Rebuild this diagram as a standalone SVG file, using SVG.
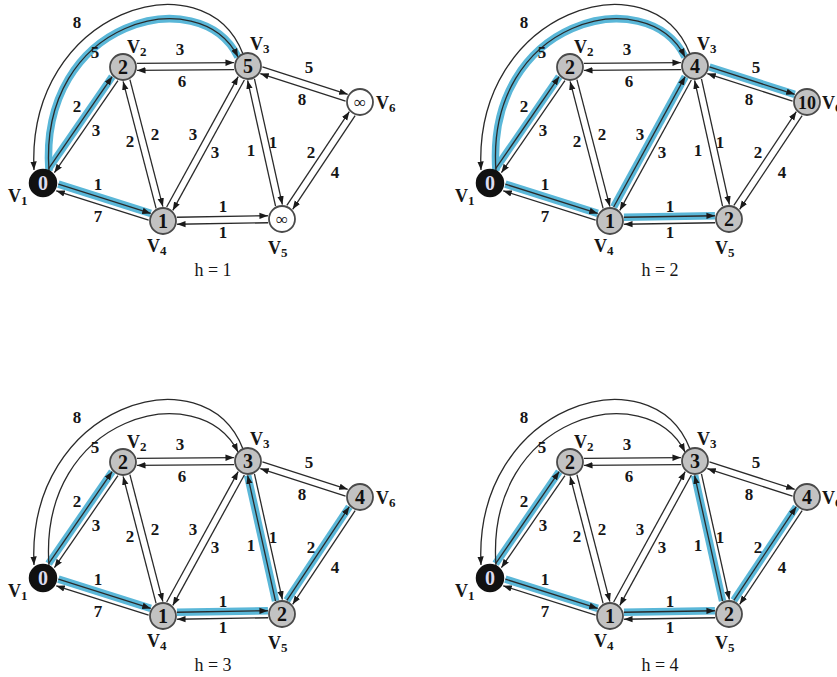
<svg xmlns="http://www.w3.org/2000/svg" width="837" height="677" viewBox="0 0 837 677">
<style>
.e{stroke:#2a2a2a;stroke-width:1.3;fill:none;marker-end:url(#ah)}
.hl{stroke:#5ab7d8;stroke-width:7.5;fill:none}
.w{font-family:"Liberation Serif","Times New Roman",serif;font-weight:bold;font-size:17px;text-anchor:middle;fill:#161616}
.lb{font-family:"Liberation Serif","Times New Roman",serif;font-weight:bold;font-size:18px;fill:#161616}
.lb tspan{font-size:13px}
.h{font-family:"Liberation Serif","Times New Roman",serif;font-size:18px;text-anchor:middle;fill:#161616}
.n circle{fill:#c2c2c2;stroke:#4a4a4a;stroke-width:1.8}
.n text.v{font-family:"Liberation Serif","Times New Roman",serif;font-weight:bold;font-size:20px;text-anchor:middle;fill:#111}
.s circle{fill:#111;stroke:#111;stroke-width:2.5}
.s text.v{fill:#dcdcf0}
.u circle{fill:#fff}
.u text.v{font-weight:normal;font-size:17px}
</style>
<defs>
<marker id="ah" markerWidth="10" markerHeight="8" refX="8.5" refY="4" orient="auto" markerUnits="userSpaceOnUse"><path d="M0,0.8 L8.5,4 L0,7.2 z" fill="#1a1a1a"/></marker>
</defs>

<!-- ============ PANEL 1 (h=1) ============ -->
<g id="panel1">
<g id="p1-connectors">
<g class="hls">
<path class="hl" d="M49,171 C38,20 200,-20 238,57"/>
<g transform="translate(43,183) rotate(-55.4)"><line class="hl" x1="15" y1="-3.5" x2="126.9" y2="-3.5"/></g>
<g transform="translate(43,183) rotate(17.57)"><line class="hl" x1="15" y1="-3.5" x2="111.9" y2="-3.5"/></g>
</g>
<path class="e" d="M243,54 C205,-45 26,10 34,170"/>
<path class="e" d="M49,171 C38,20 200,-20 238,57"/>
<g transform="translate(43,183) rotate(-55.4)"><line class="e" x1="15" y1="-3.5" x2="126.9" y2="-3.5"/><line class="e" x1="126.9" y1="3.5" x2="15" y2="3.5"/></g>
<g transform="translate(43,183) rotate(17.57)"><line class="e" x1="15" y1="-3.5" x2="111.9" y2="-3.5"/><line class="e" x1="111.9" y1="3.5" x2="15" y2="3.5"/></g>
<g transform="translate(123,67) rotate(-0.46)"><line class="e" x1="14" y1="-3.5" x2="111" y2="-3.5"/><line class="e" x1="111" y1="3.5" x2="14" y2="3.5"/></g>
<g transform="translate(123,67) rotate(75.44)"><line class="e" x1="14" y1="-3.5" x2="145.1" y2="-3.5"/><line class="e" x1="145.1" y1="3.5" x2="14" y2="3.5"/></g>
<g transform="translate(163,221) rotate(-61.26)"><line class="e" x1="14" y1="-3.5" x2="162.8" y2="-3.5"/><line class="e" x1="162.8" y1="3.5" x2="14" y2="3.5"/></g>
<g transform="translate(248,66) rotate(77.47)"><line class="e" x1="14" y1="-3.5" x2="142.7" y2="-3.5"/><line class="e" x1="142.7" y1="3.5" x2="14" y2="3.5"/></g>
<g transform="translate(248,66) rotate(17.82)"><line class="e" x1="14" y1="-3.5" x2="103.6" y2="-3.5"/><line class="e" x1="103.6" y1="3.5" x2="14" y2="3.5"/></g>
<g transform="translate(282,219) rotate(-56.31)"><line class="e" x1="14" y1="-3.5" x2="126.6" y2="-3.5"/><line class="e" x1="126.6" y1="3.5" x2="14" y2="3.5"/></g>
<g transform="translate(163,221) rotate(-0.96)"><line class="e" x1="14" y1="-3.5" x2="105" y2="-3.5"/><line class="e" x1="105" y1="3.5" x2="14" y2="3.5"/></g>
<g class="wts">
<text class="w" x="77" y="28">8</text><text class="w" x="95" y="58">5</text>
<text class="w" x="77" y="112">2</text><text class="w" x="96" y="136">3</text>
<text class="w" x="130" y="147">2</text><text class="w" x="155" y="140">2</text>
<text class="w" x="180" y="55">3</text><text class="w" x="182" y="87">6</text>
<text class="w" x="193" y="140">3</text><text class="w" x="215" y="158">3</text>
<text class="w" x="251" y="156">1</text><text class="w" x="273" y="148">1</text>
<text class="w" x="309" y="73">5</text><text class="w" x="302" y="105">8</text>
<text class="w" x="311" y="158">2</text><text class="w" x="335" y="178">4</text>
<text class="w" x="223" y="212">1</text><text class="w" x="223" y="238">1</text>
<text class="w" x="98" y="190">1</text><text class="w" x="98" y="222">7</text>
</g>
</g>
<g id="p1-v1" class="n s"><circle cx="43" cy="183" r="13"/><text class="v" x="43" y="190">0</text><text class="lb" x="8" y="202">V<tspan dy="3">1</tspan></text></g>
<g id="p1-v2" class="n"><circle cx="123" cy="67" r="13"/><text class="v" x="123" y="74">2</text><text class="lb" x="127" y="53">V<tspan dy="3">2</tspan></text></g>
<g id="p1-v3" class="n"><circle cx="248" cy="66" r="13"/><text class="v" x="248" y="73">5</text><text class="lb" x="250" y="50">V<tspan dy="3">3</tspan></text></g>
<g id="p1-v4" class="n"><circle cx="163" cy="221" r="13"/><text class="v" x="163" y="228">1</text><text class="lb" x="147" y="252">V<tspan dy="3">4</tspan></text></g>
<g id="p1-v5" class="n u"><circle cx="282" cy="219" r="13"/><text class="v" x="282" y="225">∞</text><text class="lb" x="268" y="254">V<tspan dy="3">5</tspan></text></g>
<g id="p1-v6" class="n u"><circle cx="360" cy="102" r="13"/><text class="v" x="360" y="108">∞</text><text class="lb" x="376" y="109">V<tspan dy="3">6</tspan></text></g>
<text class="h" x="213" y="276">h = 1</text>
</g>

<!-- ============ PANEL 2 (h=2) ============ -->
<g id="panel2" transform="translate(447,0)">
<g id="p2-connectors">
<g class="hls">
<path class="hl" d="M49,171 C38,20 200,-20 238,57"/>
<g transform="translate(43,183) rotate(-55.4)"><line class="hl" x1="15" y1="-3.5" x2="126.9" y2="-3.5"/></g>
<g transform="translate(43,183) rotate(17.57)"><line class="hl" x1="15" y1="-3.5" x2="111.9" y2="-3.5"/></g>
<g transform="translate(163,221) rotate(-61.26)"><line class="hl" x1="14" y1="-3.5" x2="162.8" y2="-3.5"/></g>
<g transform="translate(163,221) rotate(-0.96)"><line class="hl" x1="14" y1="-3.5" x2="105" y2="-3.5"/></g>
<g transform="translate(248,66) rotate(17.82)"><line class="hl" x1="14" y1="-3.5" x2="103.6" y2="-3.5"/></g>
</g>
<path class="e" d="M243,54 C205,-45 26,10 34,170"/>
<path class="e" d="M49,171 C38,20 200,-20 238,57"/>
<g transform="translate(43,183) rotate(-55.4)"><line class="e" x1="15" y1="-3.5" x2="126.9" y2="-3.5"/><line class="e" x1="126.9" y1="3.5" x2="15" y2="3.5"/></g>
<g transform="translate(43,183) rotate(17.57)"><line class="e" x1="15" y1="-3.5" x2="111.9" y2="-3.5"/><line class="e" x1="111.9" y1="3.5" x2="15" y2="3.5"/></g>
<g transform="translate(123,67) rotate(-0.46)"><line class="e" x1="14" y1="-3.5" x2="111" y2="-3.5"/><line class="e" x1="111" y1="3.5" x2="14" y2="3.5"/></g>
<g transform="translate(123,67) rotate(75.44)"><line class="e" x1="14" y1="-3.5" x2="145.1" y2="-3.5"/><line class="e" x1="145.1" y1="3.5" x2="14" y2="3.5"/></g>
<g transform="translate(163,221) rotate(-61.26)"><line class="e" x1="14" y1="-3.5" x2="162.8" y2="-3.5"/><line class="e" x1="162.8" y1="3.5" x2="14" y2="3.5"/></g>
<g transform="translate(248,66) rotate(77.47)"><line class="e" x1="14" y1="-3.5" x2="142.7" y2="-3.5"/><line class="e" x1="142.7" y1="3.5" x2="14" y2="3.5"/></g>
<g transform="translate(248,66) rotate(17.82)"><line class="e" x1="14" y1="-3.5" x2="103.6" y2="-3.5"/><line class="e" x1="103.6" y1="3.5" x2="14" y2="3.5"/></g>
<g transform="translate(282,219) rotate(-56.31)"><line class="e" x1="14" y1="-3.5" x2="126.6" y2="-3.5"/><line class="e" x1="126.6" y1="3.5" x2="14" y2="3.5"/></g>
<g transform="translate(163,221) rotate(-0.96)"><line class="e" x1="14" y1="-3.5" x2="105" y2="-3.5"/><line class="e" x1="105" y1="3.5" x2="14" y2="3.5"/></g>
<g class="wts">
<text class="w" x="77" y="28">8</text><text class="w" x="95" y="58">5</text>
<text class="w" x="77" y="112">2</text><text class="w" x="96" y="136">3</text>
<text class="w" x="130" y="147">2</text><text class="w" x="155" y="140">2</text>
<text class="w" x="180" y="55">3</text><text class="w" x="182" y="87">6</text>
<text class="w" x="193" y="140">3</text><text class="w" x="215" y="158">3</text>
<text class="w" x="251" y="156">1</text><text class="w" x="273" y="148">1</text>
<text class="w" x="309" y="73">5</text><text class="w" x="302" y="105">8</text>
<text class="w" x="311" y="158">2</text><text class="w" x="335" y="178">4</text>
<text class="w" x="223" y="212">1</text><text class="w" x="223" y="238">1</text>
<text class="w" x="98" y="190">1</text><text class="w" x="98" y="222">7</text>
</g>
</g>
<g id="p2-v1" class="n s"><circle cx="43" cy="183" r="13"/><text class="v" x="43" y="190">0</text><text class="lb" x="8" y="202">V<tspan dy="3">1</tspan></text></g>
<g id="p2-v2" class="n"><circle cx="123" cy="67" r="13"/><text class="v" x="123" y="74">2</text><text class="lb" x="127" y="53">V<tspan dy="3">2</tspan></text></g>
<g id="p2-v3" class="n"><circle cx="248" cy="66" r="13"/><text class="v" x="248" y="73">4</text><text class="lb" x="250" y="50">V<tspan dy="3">3</tspan></text></g>
<g id="p2-v4" class="n"><circle cx="163" cy="221" r="13"/><text class="v" x="163" y="228">1</text><text class="lb" x="147" y="252">V<tspan dy="3">4</tspan></text></g>
<g id="p2-v5" class="n"><circle cx="282" cy="219" r="13"/><text class="v" x="282" y="226">2</text><text class="lb" x="268" y="254">V<tspan dy="3">5</tspan></text></g>
<g id="p2-v6" class="n"><circle cx="360" cy="102" r="13"/><text class="v" x="360" y="108.5" style="font-size:18px">10</text><text class="lb" x="375" y="109">V<tspan dy="3">6</tspan></text></g>
<text class="h" x="213" y="276">h = 2</text>
</g>

<!-- ============ PANEL 3 (h=3) ============ -->
<g id="panel3" transform="translate(0,395)">
<g id="p3-connectors">
<g class="hls">
<g transform="translate(43,183) rotate(-55.4)"><line class="hl" x1="15" y1="-3.5" x2="126.9" y2="-3.5"/></g>
<g transform="translate(43,183) rotate(17.57)"><line class="hl" x1="15" y1="-3.5" x2="111.9" y2="-3.5"/></g>
<g transform="translate(163,221) rotate(-0.96)"><line class="hl" x1="14" y1="-3.5" x2="105" y2="-3.5"/></g>
<g transform="translate(248,66) rotate(77.47)"><line class="hl" x1="142.7" y1="3.5" x2="14" y2="3.5"/></g>
<g transform="translate(282,219) rotate(-56.31)"><line class="hl" x1="14" y1="-3.5" x2="126.6" y2="-3.5"/></g>
</g>
<path class="e" d="M243,54 C205,-45 26,10 34,170"/>
<path class="e" d="M49,171 C38,20 200,-20 238,57"/>
<g transform="translate(43,183) rotate(-55.4)"><line class="e" x1="15" y1="-3.5" x2="126.9" y2="-3.5"/><line class="e" x1="126.9" y1="3.5" x2="15" y2="3.5"/></g>
<g transform="translate(43,183) rotate(17.57)"><line class="e" x1="15" y1="-3.5" x2="111.9" y2="-3.5"/><line class="e" x1="111.9" y1="3.5" x2="15" y2="3.5"/></g>
<g transform="translate(123,67) rotate(-0.46)"><line class="e" x1="14" y1="-3.5" x2="111" y2="-3.5"/><line class="e" x1="111" y1="3.5" x2="14" y2="3.5"/></g>
<g transform="translate(123,67) rotate(75.44)"><line class="e" x1="14" y1="-3.5" x2="145.1" y2="-3.5"/><line class="e" x1="145.1" y1="3.5" x2="14" y2="3.5"/></g>
<g transform="translate(163,221) rotate(-61.26)"><line class="e" x1="14" y1="-3.5" x2="162.8" y2="-3.5"/><line class="e" x1="162.8" y1="3.5" x2="14" y2="3.5"/></g>
<g transform="translate(248,66) rotate(77.47)"><line class="e" x1="14" y1="-3.5" x2="142.7" y2="-3.5"/><line class="e" x1="142.7" y1="3.5" x2="14" y2="3.5"/></g>
<g transform="translate(248,66) rotate(17.82)"><line class="e" x1="14" y1="-3.5" x2="103.6" y2="-3.5"/><line class="e" x1="103.6" y1="3.5" x2="14" y2="3.5"/></g>
<g transform="translate(282,219) rotate(-56.31)"><line class="e" x1="14" y1="-3.5" x2="126.6" y2="-3.5"/><line class="e" x1="126.6" y1="3.5" x2="14" y2="3.5"/></g>
<g transform="translate(163,221) rotate(-0.96)"><line class="e" x1="14" y1="-3.5" x2="105" y2="-3.5"/><line class="e" x1="105" y1="3.5" x2="14" y2="3.5"/></g>
<g class="wts">
<text class="w" x="77" y="28">8</text><text class="w" x="95" y="58">5</text>
<text class="w" x="77" y="112">2</text><text class="w" x="96" y="136">3</text>
<text class="w" x="130" y="147">2</text><text class="w" x="155" y="140">2</text>
<text class="w" x="180" y="55">3</text><text class="w" x="182" y="87">6</text>
<text class="w" x="193" y="140">3</text><text class="w" x="215" y="158">3</text>
<text class="w" x="251" y="156">1</text><text class="w" x="273" y="148">1</text>
<text class="w" x="309" y="73">5</text><text class="w" x="302" y="105">8</text>
<text class="w" x="311" y="158">2</text><text class="w" x="335" y="178">4</text>
<text class="w" x="223" y="212">1</text><text class="w" x="223" y="238">1</text>
<text class="w" x="98" y="190">1</text><text class="w" x="98" y="222">7</text>
</g>
</g>
<g id="p3-v1" class="n s"><circle cx="43" cy="183" r="13"/><text class="v" x="43" y="190">0</text><text class="lb" x="8" y="202">V<tspan dy="3">1</tspan></text></g>
<g id="p3-v2" class="n"><circle cx="123" cy="67" r="13"/><text class="v" x="123" y="74">2</text><text class="lb" x="127" y="53">V<tspan dy="3">2</tspan></text></g>
<g id="p3-v3" class="n"><circle cx="248" cy="66" r="13"/><text class="v" x="248" y="73">3</text><text class="lb" x="250" y="50">V<tspan dy="3">3</tspan></text></g>
<g id="p3-v4" class="n"><circle cx="163" cy="221" r="13"/><text class="v" x="163" y="228">1</text><text class="lb" x="147" y="252">V<tspan dy="3">4</tspan></text></g>
<g id="p3-v5" class="n"><circle cx="282" cy="219" r="13"/><text class="v" x="282" y="226">2</text><text class="lb" x="268" y="254">V<tspan dy="3">5</tspan></text></g>
<g id="p3-v6" class="n"><circle cx="360" cy="102" r="13"/><text class="v" x="360" y="109">4</text><text class="lb" x="376" y="109">V<tspan dy="3">6</tspan></text></g>
<text class="h" x="213" y="276">h = 3</text>
</g>

<!-- ============ PANEL 4 (h=4) ============ -->
<g id="panel4" transform="translate(447,395)">
<g id="p4-connectors">
<g class="hls">
<g transform="translate(43,183) rotate(-55.4)"><line class="hl" x1="15" y1="-3.5" x2="126.9" y2="-3.5"/></g>
<g transform="translate(43,183) rotate(17.57)"><line class="hl" x1="15" y1="-3.5" x2="111.9" y2="-3.5"/></g>
<g transform="translate(163,221) rotate(-0.96)"><line class="hl" x1="14" y1="-3.5" x2="105" y2="-3.5"/></g>
<g transform="translate(248,66) rotate(77.47)"><line class="hl" x1="142.7" y1="3.5" x2="14" y2="3.5"/></g>
<g transform="translate(282,219) rotate(-56.31)"><line class="hl" x1="14" y1="-3.5" x2="126.6" y2="-3.5"/></g>
</g>
<path class="e" d="M243,54 C205,-45 26,10 34,170"/>
<path class="e" d="M49,171 C38,20 200,-20 238,57"/>
<g transform="translate(43,183) rotate(-55.4)"><line class="e" x1="15" y1="-3.5" x2="126.9" y2="-3.5"/><line class="e" x1="126.9" y1="3.5" x2="15" y2="3.5"/></g>
<g transform="translate(43,183) rotate(17.57)"><line class="e" x1="15" y1="-3.5" x2="111.9" y2="-3.5"/><line class="e" x1="111.9" y1="3.5" x2="15" y2="3.5"/></g>
<g transform="translate(123,67) rotate(-0.46)"><line class="e" x1="14" y1="-3.5" x2="111" y2="-3.5"/><line class="e" x1="111" y1="3.5" x2="14" y2="3.5"/></g>
<g transform="translate(123,67) rotate(75.44)"><line class="e" x1="14" y1="-3.5" x2="145.1" y2="-3.5"/><line class="e" x1="145.1" y1="3.5" x2="14" y2="3.5"/></g>
<g transform="translate(163,221) rotate(-61.26)"><line class="e" x1="14" y1="-3.5" x2="162.8" y2="-3.5"/><line class="e" x1="162.8" y1="3.5" x2="14" y2="3.5"/></g>
<g transform="translate(248,66) rotate(77.47)"><line class="e" x1="14" y1="-3.5" x2="142.7" y2="-3.5"/><line class="e" x1="142.7" y1="3.5" x2="14" y2="3.5"/></g>
<g transform="translate(248,66) rotate(17.82)"><line class="e" x1="14" y1="-3.5" x2="103.6" y2="-3.5"/><line class="e" x1="103.6" y1="3.5" x2="14" y2="3.5"/></g>
<g transform="translate(282,219) rotate(-56.31)"><line class="e" x1="14" y1="-3.5" x2="126.6" y2="-3.5"/><line class="e" x1="126.6" y1="3.5" x2="14" y2="3.5"/></g>
<g transform="translate(163,221) rotate(-0.96)"><line class="e" x1="14" y1="-3.5" x2="105" y2="-3.5"/><line class="e" x1="105" y1="3.5" x2="14" y2="3.5"/></g>
<g class="wts">
<text class="w" x="77" y="28">8</text><text class="w" x="95" y="58">5</text>
<text class="w" x="77" y="112">2</text><text class="w" x="96" y="136">3</text>
<text class="w" x="130" y="147">2</text><text class="w" x="155" y="140">2</text>
<text class="w" x="180" y="55">3</text><text class="w" x="182" y="87">6</text>
<text class="w" x="193" y="140">3</text><text class="w" x="215" y="158">3</text>
<text class="w" x="251" y="156">1</text><text class="w" x="273" y="148">1</text>
<text class="w" x="309" y="73">5</text><text class="w" x="302" y="105">8</text>
<text class="w" x="311" y="158">2</text><text class="w" x="335" y="178">4</text>
<text class="w" x="223" y="212">1</text><text class="w" x="223" y="238">1</text>
<text class="w" x="98" y="190">1</text><text class="w" x="98" y="222">7</text>
</g>
</g>
<g id="p4-v1" class="n s"><circle cx="43" cy="183" r="13"/><text class="v" x="43" y="190">0</text><text class="lb" x="8" y="202">V<tspan dy="3">1</tspan></text></g>
<g id="p4-v2" class="n"><circle cx="123" cy="67" r="13"/><text class="v" x="123" y="74">2</text><text class="lb" x="127" y="53">V<tspan dy="3">2</tspan></text></g>
<g id="p4-v3" class="n"><circle cx="248" cy="66" r="13"/><text class="v" x="248" y="73">3</text><text class="lb" x="250" y="50">V<tspan dy="3">3</tspan></text></g>
<g id="p4-v4" class="n"><circle cx="163" cy="221" r="13"/><text class="v" x="163" y="228">1</text><text class="lb" x="147" y="252">V<tspan dy="3">4</tspan></text></g>
<g id="p4-v5" class="n"><circle cx="282" cy="219" r="13"/><text class="v" x="282" y="226">2</text><text class="lb" x="268" y="254">V<tspan dy="3">5</tspan></text></g>
<g id="p4-v6" class="n"><circle cx="360" cy="102" r="13"/><text class="v" x="360" y="109">4</text><text class="lb" x="375" y="109">V<tspan dy="3">6</tspan></text></g>
<text class="h" x="213" y="276">h = 4</text>
</g>
</svg>
